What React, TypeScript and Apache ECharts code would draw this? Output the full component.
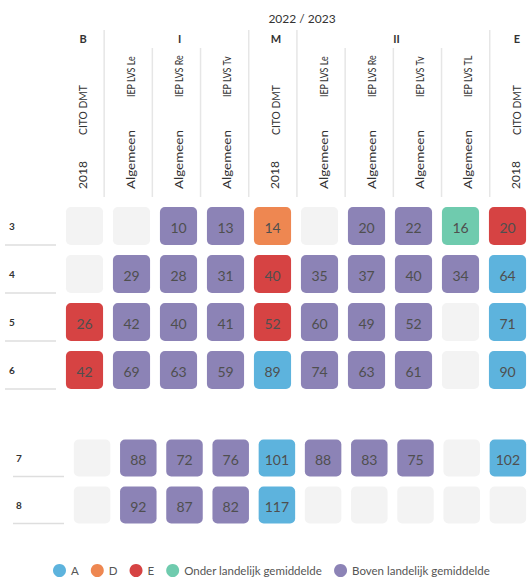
import React, { useEffect, useRef } from "react";
import * as echarts from "echarts";

// ---- data ----
const yearTitle = "2022 / 2023";
const columnGroups = ["B", "I", "I", "I", "M", "II", "II", "II", "II", "E"];
const columnLine1 = ["2018", "Algemeen", "Algemeen", "Algemeen", "2018", "Algemeen", "Algemeen", "Algemeen", "Algemeen", "2018"];
const columnLine2 = ["CITO DMT", "IEP LVS Le", "IEP LVS Re", "IEP LVS Tv", "CITO DMT", "IEP LVS Le", "IEP LVS Re", "IEP LVS Tv", "IEP LVS TL", "CITO DMT"];

const rowsBlock1 = ["3", "4", "5", "6"];
const rowsBlock2 = ["7", "8"];

const row3 = [null, null, 10, 13, 14, null, 20, 22, 16, 20];
const row4 = [null, 29, 28, 31, 40, 35, 37, 40, 34, 64];
const row5 = [26, 42, 40, 41, 52, 60, 49, 52, null, 71];
const row6 = [42, 69, 63, 59, 89, 74, 63, 61, null, 90];
const row7 = [null, 88, 72, 76, 101, 88, 83, 75, null, 102];
const row8 = [null, 92, 87, 82, 117, null, null, null, null, null];

// class per cell: A, D, E, O (onder), B (boven), "" empty
const cls3 = ["", "", "B", "B", "D", "", "B", "B", "O", "E"];
const cls4 = ["", "B", "B", "B", "E", "B", "B", "B", "B", "A"];
const cls5 = ["E", "B", "B", "B", "E", "B", "B", "B", "", "A"];
const cls6 = ["E", "B", "B", "B", "A", "B", "B", "B", "", "A"];
const cls7 = ["", "B", "B", "B", "A", "B", "B", "B", "", "A"];
const cls8 = ["", "B", "B", "B", "A", "", "", "", "", ""];

const classKeys = ["A", "D", "E", "O", "B"];
const classNames = ["A", "D", "E", "Onder landelijk gemiddelde", "Boven landelijk gemiddelde"];
const classColors = ["#5db3dd", "#ee8751", "#d64343", "#6fcbae", "#8c83b6"];

const block1Values = [row3, row4, row5, row6];
const block1Classes = [cls3, cls4, cls5, cls6];
const block2Values = [row7, row8];
const block2Classes = [cls7, cls8];

// ---- layout ----
const FONT = "Lato, 'Noto Sans', sans-serif";
const G1 = { left: 61, pitch: 48.2, top: 202, rowPitch: 48 };
const G2 = { left: 69, pitch: 46.9, top: 434.5, rowPitch: 47 };
const CELL_FRAC = 0.79;
const EMPTY_COLOR = "#f3f3f3";
const TEXT_COLOR = "#4f4f4f";

function cellRender(color: string, showText: boolean) {
  return (params: any, api: any) => {
    const c = api.coord([api.value(0), api.value(1)]);
    const s = api.size([1, 1]);
    const w = s[0] * CELL_FRAC;
    const h = s[1] * CELL_FRAC;
    const children: any[] = [
      {
        type: "rect",
        shape: { x: c[0] - w / 2, y: c[1] - h / 2, width: w, height: h, r: 5 },
        style: { fill: color },
      },
    ];
    if (showText) {
      children.push({
        type: "text",
        style: {
          text: String(api.value(2)),
          x: c[0],
          y: c[1] + 1,
          align: "center",
          verticalAlign: "middle",
          fill: TEXT_COLOR,
          font: `14px ${FONT}`,
        },
      });
    }
    return { type: "group", children };
  };
}

function underlineRender(params: any, api: any) {
  const c = api.coord([0, api.value(1)]);
  const s = api.size([1, 1]);
  const gl = c[0] - s[0] / 2;
  const y = c[1] + (s[1] * CELL_FRAC) / 2;
  return {
    type: "line",
    shape: { x1: gl - 56, y1: y, x2: gl - 5, y2: y },
    style: { stroke: "#dedede", lineWidth: 1.5 },
  };
}

function buildSeries(values: (number | null)[][], classes: string[][], gridIdx: number) {
  const series: any[] = [];
  classKeys.forEach((k, ki) => {
    const data: any[] = [];
    values.forEach((row, ri) =>
      row.forEach((v, ci) => {
        if (v !== null && classes[ri][ci] === k) data.push([ci, ri, v]);
      })
    );
    series.push({
      type: "custom",
      name: classNames[ki],
      xAxisIndex: gridIdx,
      yAxisIndex: gridIdx,
      itemStyle: { color: classColors[ki] },
      renderItem: cellRender(classColors[ki], true),
      data,
    });
  });
  const empty: any[] = [];
  values.forEach((row, ri) =>
    row.forEach((v, ci) => {
      if (v === null) empty.push([ci, ri, 0]);
    })
  );
  series.push({
    type: "custom",
    name: "empty",
    xAxisIndex: gridIdx,
    yAxisIndex: gridIdx,
    renderItem: cellRender(EMPTY_COLOR, false),
    data: empty,
    z: 1,
  });
  series.push({
    type: "custom",
    name: "lines",
    xAxisIndex: gridIdx,
    yAxisIndex: gridIdx,
    renderItem: underlineRender,
    data: values.map((_, ri) => [0, ri]),
    silent: true,
  });
  return series;
}

function buildHeader(): any[] {
  const els: any[] = [];
  const cx = (i: number) => G1.left + (i + 0.5) * G1.pitch;
  const half = (G1.pitch * CELL_FRAC) / 2;
  els.push({
    type: "text",
    x: (cx(0) + cx(9)) / 2,
    y: 18,
    style: { text: yearTitle, align: "center", verticalAlign: "middle", fill: "#333", font: `12px ${FONT}` },
  });
  // groups
  let start = 0;
  for (let i = 1; i <= columnGroups.length; i++) {
    if (i === columnGroups.length || columnGroups[i] !== columnGroups[start]) {
      const center = (cx(start) + cx(i - 1)) / 2 - 2;
      els.push({
        type: "text",
        x: center,
        y: 38,
        style: { text: columnGroups[start], align: "center", verticalAlign: "middle", fill: "#333", font: `bold 11px ${FONT}` },
      });
      if (i < columnGroups.length) {
        const sx = cx(i - 1) + half;
        els.push({ type: "line", shape: { x1: sx, y1: 30, x2: sx, y2: 197 }, style: { stroke: "#e6e6e6", lineWidth: 1.5 } });
      }
      start = i;
    } else {
      const sx = cx(i - 1) + half;
      els.push({ type: "line", shape: { x1: sx, y1: 48, x2: sx, y2: 197 }, style: { stroke: "#e6e6e6", lineWidth: 1.5 } });
    }
  }
  // rotated column labels
  columnLine1.forEach((t, i) => {
    const x = cx(i) - 3;
    const isCito = t === "2018";
    els.push({
      type: "text",
      x,
      y: 189,
      rotation: Math.PI / 2,
      scaleX: isCito ? 1 : 1.12,
      style: { text: t, align: "left", verticalAlign: "middle", fill: "#333", font: `12px ${FONT}` },
    });
    els.push({
      type: "text",
      x,
      y: isCito ? 135 : 97,
      rotation: Math.PI / 2,
      scaleX: isCito ? 0.86 : 0.74,
      style: { text: columnLine2[i], align: "left", verticalAlign: "middle", fill: "#333", font: `12px ${FONT}` },
    });
  });
  return els;
}

export default function App() {
  const ref = useRef<HTMLDivElement>(null);
  useEffect(() => {
    if (!ref.current) return;
    const chart = echarts.init(ref.current, null, { renderer: "svg" });
    const colIdx = columnLine2.map((_, i) => String(i));
    const yAxisBase = {
      type: "category",
      inverse: true,
      axisLine: { show: false },
      axisTick: { show: false },
      splitLine: { show: false },
      axisLabel: { align: "left", color: "#333", fontSize: 10, fontWeight: "bold", fontFamily: FONT },
    };
    chart.setOption({
      animation: false,
      backgroundColor: "#ffffff",
      textStyle: { fontFamily: FONT },
      grid: [
        { left: G1.left, top: G1.top, width: G1.pitch * 10, height: G1.rowPitch * rowsBlock1.length },
        { left: G2.left, top: G2.top, width: G2.pitch * 10, height: G2.rowPitch * rowsBlock2.length },
      ],
      xAxis: [
        { type: "category", gridIndex: 0, data: colIdx, show: false },
        { type: "category", gridIndex: 1, data: colIdx, show: false },
      ],
      yAxis: [
        { ...yAxisBase, gridIndex: 0, data: rowsBlock1, axisLabel: { ...yAxisBase.axisLabel, margin: 52 } },
        { ...yAxisBase, gridIndex: 1, data: rowsBlock2, axisLabel: { ...yAxisBase.axisLabel, margin: 53 } },
      ],
      legend: {
        data: classNames,
        left: 48,
        top: 559,
        icon: "circle",
        itemWidth: 13,
        itemHeight: 13,
        itemGap: 12,
        textStyle: { color: "#555", fontSize: 11.5, fontFamily: FONT },
      },
      graphic: buildHeader(),
      series: [
        ...buildSeries(block1Values, block1Classes, 0),
        ...buildSeries(block2Values, block2Classes, 1),
      ],
    });
    return () => chart.dispose();
  }, []);
  return <div ref={ref} style={{ position: "absolute", left: 0, top: 0, width: 531, height: 579 }} />;
}
